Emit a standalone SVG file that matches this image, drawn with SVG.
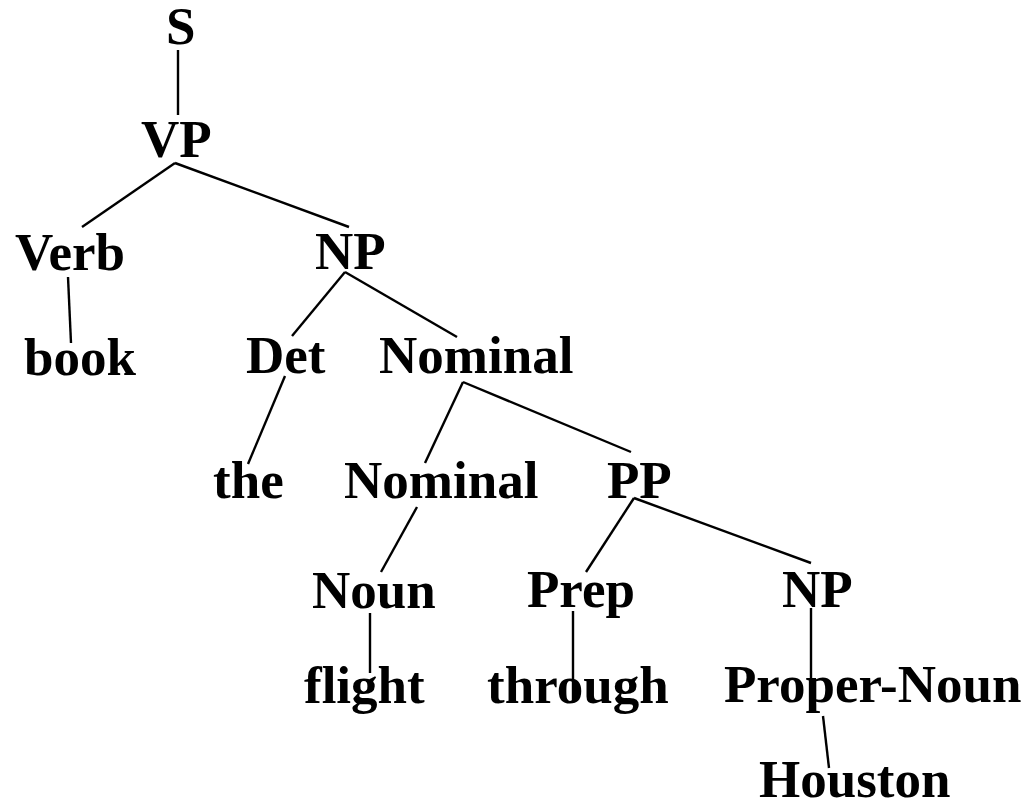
<svg xmlns="http://www.w3.org/2000/svg" width="1028" height="803" viewBox="0 0 1028 803">
<style>
text{font-family:"Liberation Serif","Times New Roman",serif;font-weight:bold;font-size:53px;fill:#000}
line{stroke:#000;stroke-width:2.4;stroke-linecap:butt}
</style>
<rect width="1028" height="803" fill="#fff"/>
<g id="connectors">
<line x1="178" y1="50" x2="178" y2="115"/>
<line x1="175" y1="163" x2="82" y2="227"/>
<line x1="175" y1="163" x2="349" y2="227"/>
<line x1="68" y1="277" x2="71" y2="343"/>
<line x1="345" y1="272" x2="292" y2="336"/>
<line x1="345" y1="272" x2="457" y2="337"/>
<line x1="285" y1="376" x2="248" y2="464"/>
<line x1="463" y1="382" x2="425" y2="463"/>
<line x1="463" y1="382" x2="631" y2="452"/>
<line x1="417" y1="507" x2="381" y2="572"/>
<line x1="634" y1="498" x2="586" y2="572"/>
<line x1="634" y1="498" x2="811" y2="563"/>
<line x1="370" y1="613" x2="370" y2="673"/>
<line x1="573" y1="611" x2="573" y2="703"/>
<line x1="811" y1="608" x2="811" y2="712"/>
<line x1="823" y1="716" x2="829" y2="768"/>
</g>
<g id="n-S"><text x="166" y="44">S</text></g>
<g id="n-VP"><text x="141" y="157">VP</text></g>
<g id="n-Verb"><text x="15" y="270">Verb</text></g>
<g id="n-NP1"><text x="315" y="269">NP</text></g>
<g id="n-book"><text x="24" y="375">book</text></g>
<g id="n-Det"><text x="246" y="373">Det</text></g>
<g id="n-Nominal1"><text x="379" y="373">Nominal</text></g>
<g id="n-the"><text x="213" y="498">the</text></g>
<g id="n-Nominal2"><text x="344" y="498">Nominal</text></g>
<g id="n-PP"><text x="607" y="498">PP</text></g>
<g id="n-Noun"><text x="312" y="608">Noun</text></g>
<g id="n-Prep"><text x="527" y="607">Prep</text></g>
<g id="n-NP2"><text x="782" y="607">NP</text></g>
<g id="n-flight"><text x="304" y="703">flight</text></g>
<g id="n-through"><text x="487" y="703">through</text></g>
<g id="n-ProperNoun"><text x="724" y="702">Proper-Noun</text></g>
<g id="n-Houston"><text x="759" y="797">Houston</text></g>
</svg>
